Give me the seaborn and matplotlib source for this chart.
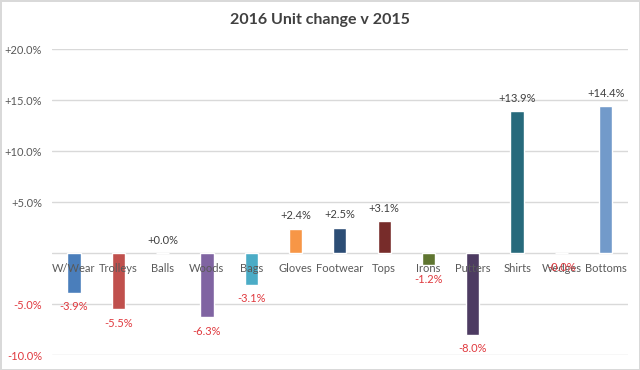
import pandas as pd
import matplotlib.pyplot as plt
import seaborn as sns

categories = ["W/Wear", "Trolleys", "Balls", "Woods", "Bags", "Gloves", "Footwear",
              "Tops", "Irons", "Putters", "Shirts", "Wedges", "Bottoms"]
changes = [-3.9, -5.5, 0.0, -6.3, -3.1, 2.4, 2.5, 3.1, -1.2, -8.0, 13.9, -0.01, 14.4]
bar_colors = ["#4a7ebb", "#c0504d", "#9bbb59", "#8064a2", "#4bacc6", "#f79646", "#2c4d75",
              "#772c2a", "#5f7530", "#4d3b62", "#276a7c", "#b65708", "#729aca"]
y_ticks = [-10, -5, 0, 5, 10, 15, 20]

df = pd.DataFrame({"Category": categories, "Change": changes})

sns.set_style("white")
plt.rcParams['font.family'] = ['Lato', 'DejaVu Sans']

fig = plt.figure(figsize=(6.4, 3.7), dpi=100)
fig.patch.set_edgecolor("#d9d9d9")
fig.patch.set_linewidth(2)
ax = fig.add_axes([0.081, 0.0405, 0.9, 0.827])

sns.barplot(data=df, x="Category", y="Change", hue="Category", palette=bar_colors,
            width=0.3, saturation=1, legend=False, ax=ax, zorder=2)

ax.set_ylim(-10, 20)
ax.set_xlim(-0.5, len(categories) - 0.5)
ax.set_yticks(y_ticks)
ax.set_yticklabels(["" if t == 0 else f"{t:+.1f}%" for t in y_ticks], fontsize=8)
for lab, t in zip(ax.get_yticklabels(), y_ticks):
    lab.set_color("#e0393e" if t < 0 else "#595959")
ax.tick_params(axis="y", length=0, pad=7)
ax.grid(axis="y", color="#d9d9d9", linewidth=1, zorder=0)
for s in ax.spines.values():
    s.set_visible(False)
ax.set_xticks([])
ax.set_xlabel("")
ax.set_ylabel("")

# category labels sit just below the zero line
for i, c in enumerate(categories):
    ax.annotate(c, (i, 0), xytext=(0, -15), textcoords="offset pixels",
                ha="center", va="center", fontsize=8, color="#595959", zorder=3)

# value labels
for i, v in enumerate(changes):
    if v >= 0:
        ax.annotate(f"{v:+.1f}%", (i, v), xytext=(0, 13), textcoords="offset pixels",
                    ha="center", va="center", fontsize=8, color="#404040", zorder=4)
    else:
        ax.annotate(f"{v:+.1f}%", (i, v), xytext=(0, -14), textcoords="offset pixels",
                    ha="center", va="center", fontsize=8, color="#e0393e", zorder=4)

fig.suptitle("2016 Unit change v 2015", x=0.5, y=0.965, fontsize=11.5,
             fontweight="bold", color="#404040")

fig.savefig("out.png", dpi=100)
